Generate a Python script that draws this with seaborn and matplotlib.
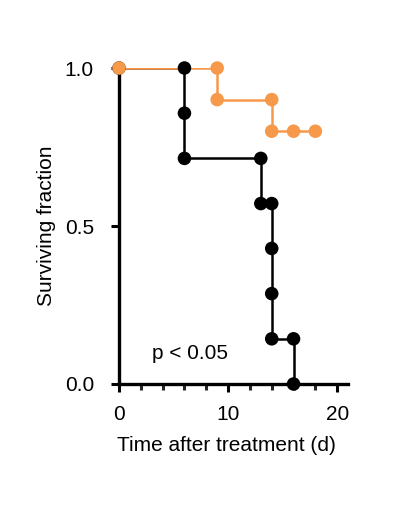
import numpy as np
import pandas as pd
import matplotlib.pyplot as plt
import seaborn as sns
from matplotlib.ticker import MultipleLocator

# Kaplan-Meier step values
ctrl_t = [0, 6, 13, 14, 16]
ctrl_s = [1.0, 0.714, 0.571, 0.143, 0.0]
trt_t = [0, 9, 14, 18]
trt_s = [1.0, 0.9, 0.8, 0.8]

# points drawn at each event
ctrl_pt_t = [0, 6, 6, 6, 13, 13, 14, 14, 14, 14, 16, 16]
ctrl_pt_s = [1.0, 1.0, 0.857, 0.714, 0.714, 0.571, 0.571, 0.429, 0.286, 0.143, 0.143, 0.0]
trt_pt_t = [0, 9, 9, 14, 14, 16, 18]
trt_pt_s = [1.0, 1.0, 0.9, 0.9, 0.8, 0.8, 0.8]

black = '#000000'
orange = '#F7994A'

sns.set_style('white')
plt.rcParams['font.family'] = ['Liberation Sans', 'DejaVu Sans']
plt.rcParams['text.color'] = 'black'
plt.rcParams['axes.labelcolor'] = 'black'

fig = plt.figure(figsize=(3.96, 5.18), dpi=100)
ax = fig.add_axes([0.3005, 0.2587, 0.5785, 0.61])

sns.lineplot(x=ctrl_t, y=ctrl_s, ax=ax, color=black, lw=1.8, drawstyle='steps-post',
             estimator=None, sort=False)
sns.scatterplot(x=ctrl_pt_t, y=ctrl_pt_s, ax=ax, color=black, s=95, edgecolor='none',
                clip_on=False, zorder=3)
sns.lineplot(x=trt_t, y=trt_s, ax=ax, color=orange, lw=1.8, drawstyle='steps-post',
             estimator=None, sort=False)
sns.scatterplot(x=trt_pt_t, y=trt_pt_s, ax=ax, color=orange, s=95, edgecolor='none',
                clip_on=False, zorder=4)

ax.set_xlim(0, 21)
ax.set_ylim(0, 1)
ax.set_xticks([0, 10, 20])
ax.xaxis.set_minor_locator(MultipleLocator(2))
ax.set_yticks([0, 0.5, 1.0])
ax.set_yticklabels(['0.0', '0.5', '1.0'])

for side in ['top', 'right']:
    ax.spines[side].set_visible(False)
for side in ['left', 'bottom']:
    ax.spines[side].set_linewidth(2.4)
    ax.spines[side].set_color('black')

ax.tick_params(which='major', direction='out', length=6, width=2.2, labelsize=15,
               bottom=True, left=True, pad=9, colors='black')
ax.tick_params(axis='y', which='major', pad=12)
ax.tick_params(axis='x', which='minor', direction='out', length=4, width=2.2, bottom=True)

ax.set_xlabel('Time after treatment (d)', fontsize=15, labelpad=8)
ax.set_ylabel('Surviving fraction', fontsize=15, labelpad=6)
ax.xaxis.set_label_coords(0.47, -0.165)

ax.text(3.0, 0.098, 'p < 0.05', fontsize=15, va='center', ha='left')

fig.savefig('out.png', dpi=100)
